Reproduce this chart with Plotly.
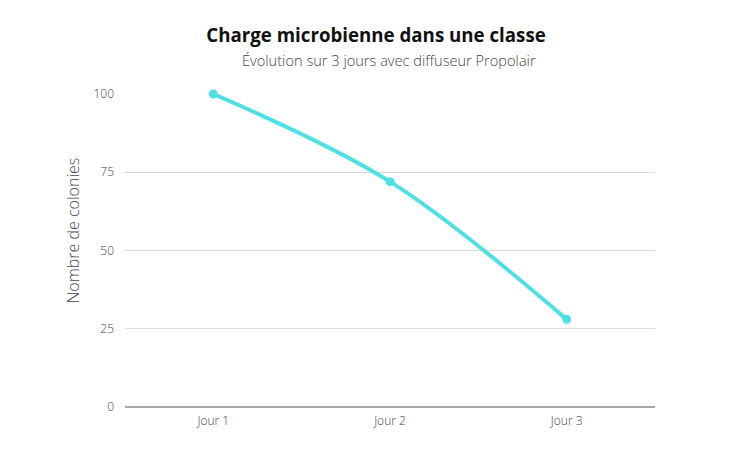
import plotly.graph_objects as go

jours = ["Jour 1", "Jour 2", "Jour 3"]
colonies = [100, 72, 28]
y_ticks = [0, 25, 50, 75, 100]

fig = go.Figure()
fig.add_trace(go.Scatter(
    x=jours, y=colonies,
    mode="lines+markers",
    line=dict(color="#50DFE3", width=4, shape="spline"),
    marker=dict(color="#50DFE3", size=9),
    cliponaxis=False,
    hoverinfo="x+y",
))

fig.update_layout(
    width=750, height=450,
    margin=dict(l=117, r=103, t=86, b=51),
    paper_bgcolor="white", plot_bgcolor="white",
    font=dict(family="Open Sans", color="#444444"),
    showlegend=False,
    title=dict(
        text="<b>Charge microbienne dans une classe</b>",
        x=0.4907, xanchor="center", y=0.94, yanchor="middle",
        font=dict(size=18.7, color="#111111", family="Open Sans"),
    ),
    xaxis=dict(
        range=[-0.5, 2.5], showgrid=False, showline=False, ticks="",
        ticklabelstandoff=5,
        tickfont=dict(size=12, color="#444444", weight=300),
    ),
    yaxis=dict(
        range=[0, 100], tickvals=y_ticks, showgrid=True, gridcolor="#D9D9D9",
        gridwidth=1, zeroline=True, zerolinecolor="#A6A6A6", zerolinewidth=2,
        showline=False, ticks="", ticklabelstandoff=10,
        tickfont=dict(size=12, color="#444444", weight=300),
    ),
)

# sous-titre et titre de l'axe y en annotations pour les placer comme l'original
fig.add_annotation(
    text="Évolution sur 3 jours avec diffuseur Propolair",
    xref="paper", yref="paper", x=0.499, y=1.109,
    xanchor="center", yanchor="middle", showarrow=False,
    font=dict(size=14.6, color="#444444", weight=300),
)
fig.add_annotation(
    text="Nombre de colonies",
    xref="paper", yref="paper", x=-0.098, y=0.565,
    xanchor="center", yanchor="middle", showarrow=False, textangle=-90,
    font=dict(size=16, color="#444444", weight=300),
)

fig.write_html("out.html")
